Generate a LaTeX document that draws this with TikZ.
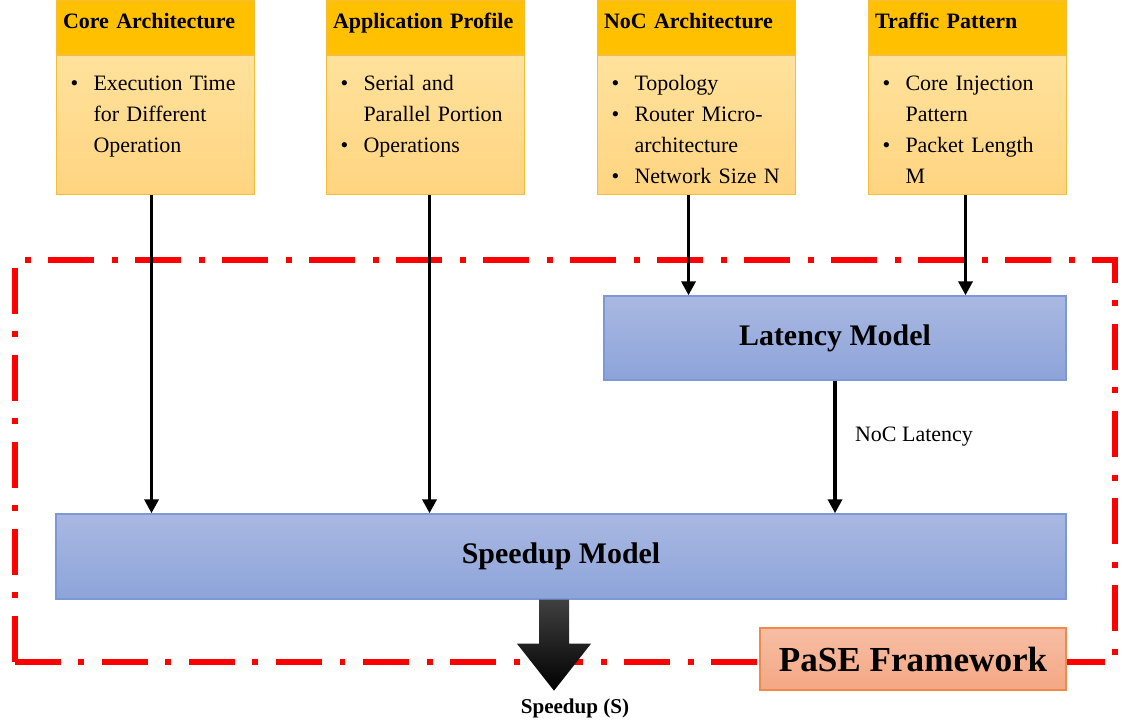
\documentclass[tikz,border=0pt]{standalone}
\usepackage{fontspec}
\setmainfont{Liberation Serif}
\usetikzlibrary{positioning,arrows.meta,calc}
\definecolor{headgold}{HTML}{FFC000}
\definecolor{bodytop}{HTML}{FFE29C}
\definecolor{bodybot}{HTML}{FFD480}
\definecolor{boxedge}{HTML}{F5BD3A}
\definecolor{bluetop}{HTML}{A9B8E1}
\definecolor{bluebot}{HTML}{8DA4DA}
\definecolor{blueedge}{HTML}{7D98D6}
\definecolor{salmtop}{HTML}{F7BEA4}
\definecolor{salmbot}{HTML}{F4A784}
\definecolor{salmedge}{HTML}{F0894A}
\newcommand{\blist}[1]{\begin{tabular}[t]{@{}p{0.46cm}@{}l@{}}#1\end{tabular}}
\tikzset{
  head/.style={fill=headgold, draw=boxedge, line width=0.6pt, text width=3.7cm,
    inner xsep=0.13cm, inner ysep=0.26cm, text height=0.3cm, text depth=0.26cm,
    align=left, anchor=north west, font=\fontsize{12.5}{15}\selectfont\bfseries},
  body/.style={top color=bodytop, bottom color=bodybot, draw=boxedge, line width=0.6pt,
    text width=3.4cm, inner xsep=0.28cm, inner ysep=0.40cm, text height=0.3cm,
    text depth=1.68cm, align=left, font=\fontsize{12.5}{17.6}\selectfont},
  model/.style={top color=bluetop, bottom color=bluebot, draw=blueedge, line width=0.8pt,
    font=\fontsize{17}{20}\selectfont\bfseries},
  flow/.style={line width=2.2pt, -{Triangle[length=0.28cm,width=0.28cm]}},
  frame/.style={red, line width=3.4pt, dash pattern=on 0.92cm off 0.35cm on 0.12cm off 0.35cm}
}
\begin{document}
\begin{tikzpicture}
  \useasboundingbox (0,0) rectangle (22.52,14.52);

  \node[head] (corehead) at (1.12,14.52) {Core Architecture};
  \node[body, below=0cm of corehead] (corebody) {\blist{\textbullet & Execution Time\\ & for Different\\ & Operation}};
  \node[head] (apphead) at (6.52,14.52) {Application Profile};
  \node[body, below=0cm of apphead] (appbody) {\blist{\textbullet & Serial and\\ & Parallel Portion\\ \textbullet & Operations}};
  \node[head] (nochead) at (11.94,14.52) {NoC Architecture};
  \node[body, below=0cm of nochead] (nocbody) {\blist{\textbullet & Topology\\ \textbullet & Router Micro-\\ & architecture\\ \textbullet & Network Size N}};
  \node[head] (trafhead) at (17.36,14.52) {Traffic Pattern};
  \node[body, below=0cm of trafhead] (trafbody) {\blist{\textbullet & Core Injection\\ & Pattern\\ \textbullet & Packet Length\\ & M}};

  \draw[frame] (0.3,1.28) rectangle (22.3,9.32);

  \node[model, minimum width=9.24cm, minimum height=1.68cm] (latency) at (16.70,7.76) {Latency Model};
  \node[model, minimum width=20.2cm, minimum height=1.70cm] (speedup) at (11.22,3.39) {Speedup Model};
  \node[top color=salmtop, bottom color=salmbot, draw=salmedge, line width=0.8pt,
    minimum width=6.12cm, minimum height=1.24cm, font=\fontsize{20}{24}\selectfont\bfseries]
    (pase) at (18.26,1.34) {PaSE Framework};

  \draw[flow] ([xshift=-0.08cm]corebody.south) -- ([xshift=-0.08cm]corebody.south |- speedup.north);
  \draw[flow] ([xshift=0.08cm]appbody.south) -- ([xshift=0.08cm]appbody.south |- speedup.north);
  \draw[flow] ([xshift=-0.16cm]nocbody.south) -- ([xshift=-0.16cm]nocbody.south |- latency.north);
  \draw[flow] ([xshift=-0.04cm]trafbody.south) -- ([xshift=-0.04cm]trafbody.south |- latency.north);
  \draw[flow] (latency.south) -- node[pos=0.42, right=7pt, font=\fontsize{12.5}{15}\selectfont] {NoC Latency} (latency.south |- speedup.north);

  \coordinate (bigtop) at ([xshift=-0.14cm]speedup.south);
  \shade[top color=black!75, bottom color=black] (bigtop) ++(-0.3,0) -- ++(0,-0.88) -- ++(-0.44,0)
    -- ++(0.74,-0.94) -- ++(0.74,0.94) -- ++(-0.44,0) -- ++(0,0.88) -- cycle;
  \node[font=\fontsize{12}{14}\selectfont\bfseries] (speedout) at (11.5,0.36) {Speedup (S)};
\end{tikzpicture}
\end{document}
